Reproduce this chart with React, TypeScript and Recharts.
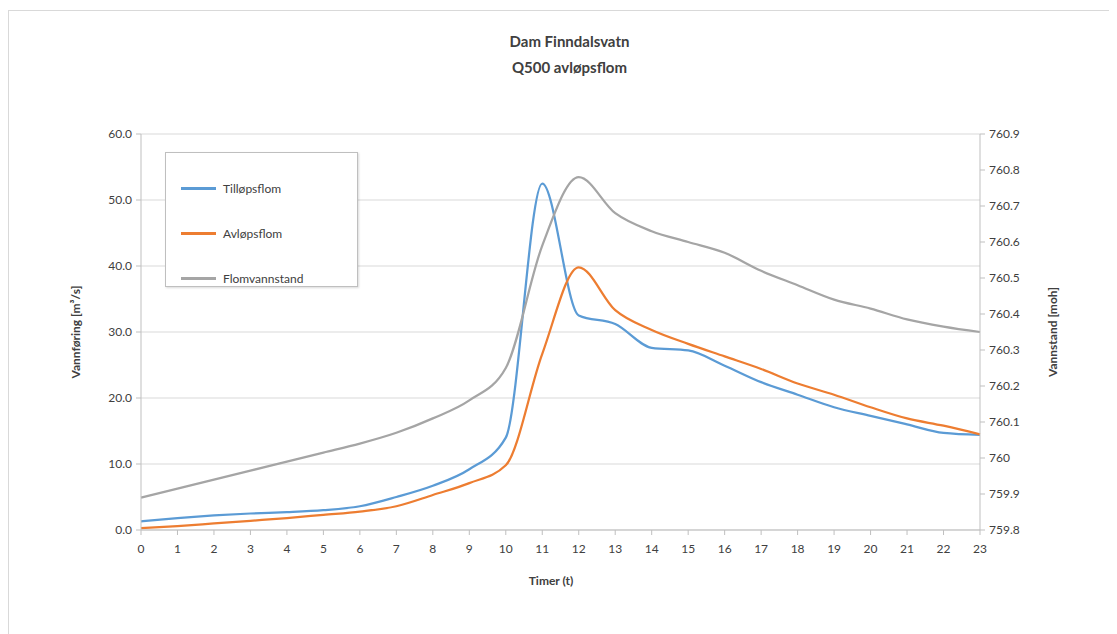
import { LineChart, Line, XAxis, YAxis, CartesianGrid } from "recharts";

// timer 0..23
const hours = [0, 1, 2, 3, 4, 5, 6, 7, 8, 9, 10, 11, 12, 13, 14, 15, 16, 17, 18, 19, 20, 21, 22, 23];

// Tilløpsflom [m3/s]
const tilloepsflom = [
  1.3, 1.8, 2.2, 2.5, 2.7, 3.0, 3.6, 5.0, 6.7, 9.2, 14.0, 52.5,
  32.5, 31.2, 27.6, 27.2, 24.9, 22.4, 20.5, 18.6, 17.3, 16.0, 14.7, 14.4,
];

// Avløpsflom [m3/s]
const avloepsflom = [
  0.3, 0.6, 1.0, 1.4, 1.8, 2.3, 2.8, 3.6, 5.3, 7.1, 9.8, 26.7,
  39.8, 33.3, 30.3, 28.2, 26.3, 24.4, 22.2, 20.5, 18.6, 16.9, 15.8, 14.5,
];

// Flomvannstand [moh]
const flomvannstand = [
  759.89, 759.915, 759.94, 759.965, 759.99, 760.015, 760.04, 760.07, 760.11, 760.16, 760.25, 760.59,
  760.78, 760.68, 760.63, 760.6, 760.57, 760.52, 760.48, 760.44, 760.415, 760.385, 760.365, 760.35,
];

const leftTicks = [0, 10, 20, 30, 40, 50, 60];
const rightTicks = [759.8, 759.9, 760, 760.1, 760.2, 760.3, 760.4, 760.5, 760.6, 760.7, 760.8, 760.9];

const data = hours.map((t, i) => ({
  t,
  inn: tilloepsflom[i],
  ut: avloepsflom[i],
  nivaa: flomvannstand[i],
}));

const FONT = "Lato, 'Liberation Sans', sans-serif";
const TEXT = "#404040";

const legendItems = [
  { name: "Tilløpsflom", color: "#5B9BD5" },
  { name: "Avløpsflom", color: "#ED7D31" },
  { name: "Flomvannstand", color: "#A5A5A5" },
];

const LegendBox = () => (
  <div
    style={{
      position: "absolute",
      left: 156,
      top: 141,
      width: 193,
      height: 135,
      boxSizing: "border-box",
      border: "1px solid #bfbfbf",
      boxShadow: "1px 1px 2px rgba(0,0,0,0.15)",
      background: "#fff",
      paddingTop: 13,
      fontFamily: FONT,
      fontSize: 12,
      color: TEXT,
    }}
  >
    {legendItems.map((it) => (
      <div key={it.name} style={{ display: "flex", alignItems: "center", height: 45 }}>
        <div style={{ width: 35, height: 2.5, background: it.color, marginLeft: 15, marginRight: 7 }} />
        <span>{it.name}</span>
      </div>
    ))}
  </div>
);

const axisTitle = {
  position: "absolute" as const,
  fontFamily: FONT,
  fontSize: 12,
  fontWeight: 700,
  color: TEXT,
  whiteSpace: "nowrap" as const,
};

export default function App() {
  return (
    <div
      style={{
        position: "relative",
        width: 1109,
        height: 624,
        marginTop: 2,
        borderLeft: "1px solid #d9d9d9",
        borderTop: "1px solid #d9d9d9",
        boxSizing: "border-box",
        background: "#fff",
      }}
    >
      <div
        style={{
          position: "absolute",
          top: 17,
          left: 6,
          width: 1109,
          textAlign: "center",
          fontFamily: FONT,
          fontSize: 15,
          fontWeight: 700,
          lineHeight: "26px",
          color: TEXT,
        }}
      >
        <div>Dam Finndalsvatn</div>
        <div>Q500 avløpsflom</div>
      </div>

      <LineChart
        width={1108}
        height={623}
        data={data}
        margin={{ top: 123, right: 67, bottom: 74, left: 62 }}
      >
        <CartesianGrid yAxisId="left" vertical={false} stroke="#d9d9d9" strokeWidth={1} />
        <XAxis
          dataKey="t"
          type="number"
          domain={[0, 23]}
          ticks={hours}
          interval={0}
          height={30}
          tick={{ fill: TEXT, fontSize: 12, fontFamily: FONT }}
          tickLine={{ stroke: "#bfbfbf" }}
          axisLine={{ stroke: "#bfbfbf" }}
          tickSize={5}
          tickMargin={9}
        />
        <YAxis
          yAxisId="left"
          domain={[0, 60]}
          ticks={leftTicks}
          width={70}
          tickFormatter={(v: number) => v.toFixed(1)}
          tick={{ fill: TEXT, fontSize: 12, fontFamily: FONT }}
          tickLine={{ stroke: "#bfbfbf" }}
          axisLine={{ stroke: "#bfbfbf" }}
          tickSize={5}
          tickMargin={4}
        />
        <YAxis
          yAxisId="right"
          orientation="right"
          domain={[759.8, 760.9]}
          ticks={rightTicks}
          width={70}
          tickFormatter={(v: number) => String(Math.round(v * 10) / 10)}
          tick={{ fill: TEXT, fontSize: 12, fontFamily: FONT }}
          tickLine={{ stroke: "#bfbfbf" }}
          axisLine={{ stroke: "#bfbfbf" }}
          tickSize={5}
          tickMargin={4}
          allowDataOverflow
        />
        <Line
          yAxisId="left"
          dataKey="inn"
          name="Tilløpsflom"
          type="monotone"
          stroke="#5B9BD5"
          strokeWidth={2.25}
          dot={false}
          isAnimationActive={false}
        />
        <Line
          yAxisId="left"
          dataKey="ut"
          name="Avløpsflom"
          type="monotone"
          stroke="#ED7D31"
          strokeWidth={2.25}
          dot={false}
          isAnimationActive={false}
        />
        <Line
          yAxisId="right"
          dataKey="nivaa"
          name="Flomvannstand"
          type="monotone"
          stroke="#A5A5A5"
          strokeWidth={2.25}
          dot={false}
          isAnimationActive={false}
        />
      </LineChart>

      <LegendBox />

      <div style={{ ...axisTitle, left: 66, top: 321, transform: "translate(-50%, -50%) rotate(-90deg)" }}>
        Vannføring [m³/s]
      </div>
      <div style={{ ...axisTitle, left: 1043, top: 321, transform: "translate(-50%, -50%) rotate(-90deg)" }}>
        Vannstand [moh]
      </div>
      <div style={{ ...axisTitle, left: 542, top: 562, transform: "translateX(-50%)" }}>Timer (t)</div>
    </div>
  );
}
